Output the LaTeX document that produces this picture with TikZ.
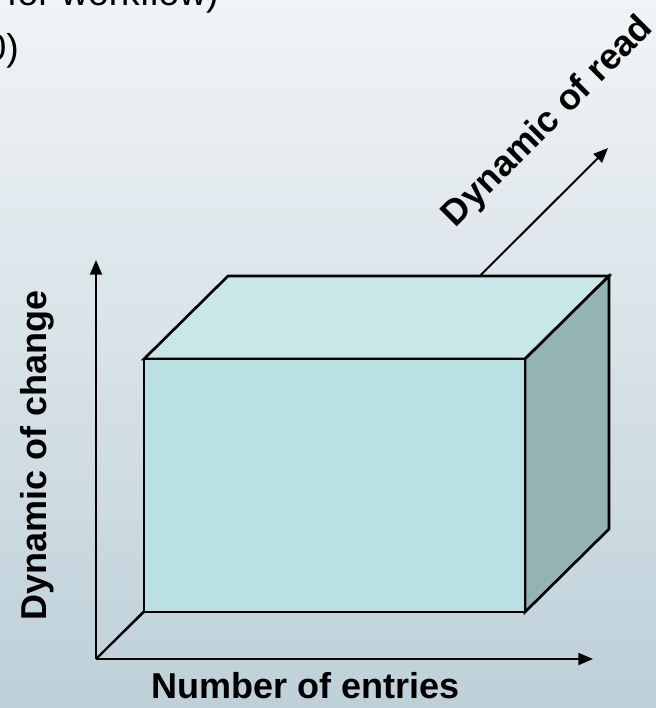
\documentclass[tikz,border=0pt]{standalone}
\usepackage{fontspec}
\setmainfont{Liberation Sans}
\usetikzlibrary{arrows.meta}

\definecolor{frontc}{RGB}{186,224,227}
\definecolor{topc}{RGB}{201,230,232}
\definecolor{sidec}{RGB}{147,179,181}
\definecolor{bgtop}{RGB}{241,244,246}
\definecolor{bgmid}{RGB}{226,233,237}
\definecolor{bgbot}{RGB}{190,208,217}

\begin{document}
\begin{tikzpicture}[
  x=0.75pt, y=-0.75pt,
  every node/.style = {inner sep=0pt},
  lbl/.style   = {font=\fontsize{27}{32}\selectfont\bfseries},
  frag/.style  = {font=\fontsize{28}{34}\selectfont},
  axis/.style  = {-{Triangle[length=11pt, width=9pt]}, line width=1.5pt},
  face/.style  = {draw=black, line width=2pt, line join=miter}
]

%% ── CANVAS ───────────────────────────────────────────────────────
\useasboundingbox (0,0) rectangle (656,708);
\clip (0,0) rectangle (656,708);
\shade[top color=bgtop, middle color=bgmid, bottom color=bgbot]
  (0,0) rectangle (656,708);

%% ── SLIDE TEXT (cut at the edge) ─────────────────────────────────
\node[frag, anchor=base east] at (219, 5)  (frag1) {for workflow)};
\node[frag, anchor=base east] at (19, 60)  (frag2) {0)};

%% ── AXIS POINTS ──────────────────────────────────────────────────
\coordinate (orig)  at (96, 659);
\coordinate (ytip)  at (96, 260);
\coordinate (xtip)  at (593, 659);
\coordinate (ztip)  at (608, 148);

%% ── BOX CORNERS ──────────────────────────────────────────────────
\coordinate (fbl) at (144, 612);
\coordinate (fbr) at (525, 612);
\coordinate (ftr) at (525, 359);
\coordinate (ftl) at (144, 359);
\coordinate (btl) at (228, 276);
\coordinate (btr) at (609, 276);
\coordinate (bbr) at (609, 529);

%% ── DEPTH AXIS (behind the box) ──────────────────────────────────
\draw[axis] (orig) -- (ztip);

%% ── BOX FACES ────────────────────────────────────────────────────
\filldraw[face, fill=topc]   (ftl) -- (btl) -- (btr) -- (ftr) -- cycle;
\filldraw[face, fill=sidec]  (ftr) -- (btr) -- (bbr) -- (fbr) -- cycle;
\filldraw[face, fill=frontc] (fbl) -- (fbr) -- (ftr) -- (ftl) -- cycle;

%% ── FRONT AXES ───────────────────────────────────────────────────
\draw[line width=1.5pt] (orig) -- (fbl);
\draw[axis] (orig) -- (ytip);
\draw[axis] (orig) -- (xtip);

%% ── AXIS LABELS ──────────────────────────────────────────────────
\node[lbl, anchor=base] at (306, 698) (xlbl) {Number of entries};
\node[lbl, anchor=base, rotate=90] at (46, 455) (ylbl) {Dynamic of change};
\node[lbl, anchor=base, rotate=45] at (555, 129) (zlbl) {Dynamic of read};

\end{tikzpicture}
\end{document}
